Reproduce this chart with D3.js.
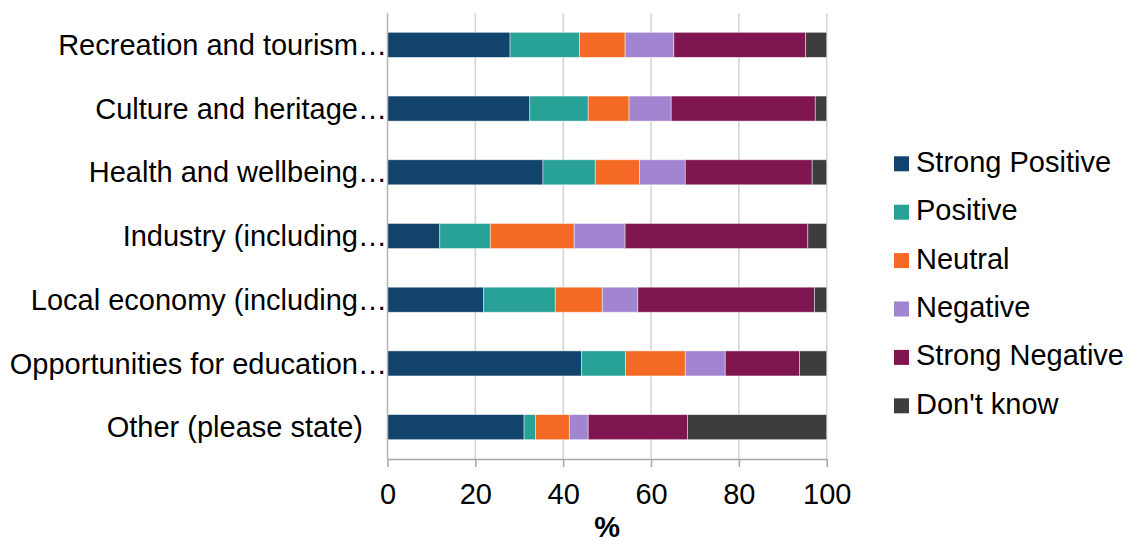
<!DOCTYPE html>
<html><head><meta charset="utf-8">
<script src="https://cdn.jsdelivr.net/npm/d3@7"></script>
<style>
html,body{margin:0;padding:0;background:#fff;}
svg text{font-family:"Liberation Sans",Arial,sans-serif;fill:#000;}
</style></head>
<body><svg id="c" width="1127" height="545"></svg>
<script>
const categories = [
  "Recreation and tourism…",
  "Culture and heritage…",
  "Health and wellbeing…",
  "Industry (including…",
  "Local economy (including…",
  "Opportunities for education…",
  "Other (please state)"
];
const seriesNames = ["Strong Positive","Positive","Neutral","Negative","Strong Negative","Don't know"];
const strongPositive = [27.9, 32.4, 35.4, 11.9, 21.9, 44.2, 31.1];
const positive       = [15.8, 13.3, 11.9, 11.5, 16.3, 10.0,  2.6];
const neutral        = [10.4,  9.3, 10.1, 19.1, 10.7, 13.6,  7.7];
const negative       = [11.1,  9.6, 10.4, 11.6,  8.1,  9.1,  4.3];
const strongNegative = [30.0, 32.8, 28.9, 41.6, 40.2, 16.9, 22.6];
const dontKnow       = [ 4.8,  2.6,  3.3,  4.3,  2.8,  6.2, 31.7];
const xTicks = [0, 20, 40, 60, 80, 100];
const colors = ["#12436D","#28A197","#F46A25","#A285D1","#801650","#3D3D3D"];

const seriesValues = [strongPositive, positive, neutral, negative, strongNegative, dontKnow];
const table = categories.map((c, i) => {
  const row = {category: c};
  seriesNames.forEach((s, j) => row[s] = seriesValues[j][i]);
  return row;
});
const stacked = d3.stack().keys(seriesNames)(table);

const svg = d3.select("#c");
const mLeft = 387.5, mRight = 826.7, mTop = 13, mBottom = 459;
const x = d3.scaleLinear().domain([0, 100]).range([mLeft, mRight]);
const y = d3.scaleBand().domain(categories).range([mTop, mBottom]).padding(0);
const color = d3.scaleOrdinal().domain(seriesNames).range(colors);
const barH = y.bandwidth() * 0.393;
const FS = 29;

// gridlines
svg.append("g").selectAll("line").data(xTicks.filter(t => t > 0)).join("line")
  .attr("x1", d => x(d)).attr("x2", d => x(d))
  .attr("y1", mTop).attr("y2", mBottom)
  .attr("stroke", "#d3d3d3").attr("stroke-width", 1.5);

// bars
svg.append("g").selectAll("g").data(stacked).join("g")
  .attr("fill", d => color(d.key))
  .selectAll("rect").data(d => d).join("rect")
  .attr("x", d => x(d[0]))
  .attr("width", d => x(d[1]) - x(d[0]))
  .attr("y", d => y(d.data.category) + (y.bandwidth() - barH) / 2)
  .attr("height", barH)
  .attr("stroke", "rgba(255,255,255,0.55)").attr("stroke-width", 0.8);

// left axis line
svg.append("line").attr("x1", mLeft).attr("x2", mLeft).attr("y1", mTop).attr("y2", mBottom)
  .attr("stroke", "#b4b4b4").attr("stroke-width", 1.5);

// x axis
const xAxis = svg.append("g").attr("transform", `translate(0,${mBottom})`)
  .call(d3.axisBottom(x).tickValues(xTicks).tickSize(8).tickPadding(16).tickSizeOuter(0));
xAxis.select(".domain").attr("stroke", "#a6a6a6").attr("stroke-width", 1.5);
xAxis.selectAll(".tick line").attr("stroke", "#a6a6a6").attr("stroke-width", 1.5);
xAxis.selectAll(".tick text").style("font-size", FS + "px").attr("fill", "#000")
  .style("font-family", "'Liberation Sans', Arial, sans-serif");

// x axis title
svg.append("text").attr("x", (mLeft + mRight) / 2).attr("y", 537)
  .attr("text-anchor", "middle").style("font-size", FS + "px").style("font-weight", "bold").text("%");

// category labels
svg.append("g").selectAll("text").data(categories).join("text")
  .attr("x", d => d.endsWith("…") ? 387 : 363)
  .attr("y", d => y(d) + y.bandwidth() / 2)
  .attr("dy", "0.35em")
  .attr("text-anchor", "end")
  .style("font-size", FS + "px")
  .text(d => d);

// legend
const legY0 = 163.8, legStep = 48.4;
const leg = svg.append("g").selectAll("g").data(seriesNames).join("g")
  .attr("transform", (d, i) => `translate(894,${legY0 + i * legStep})`);
leg.append("rect").attr("x", 0).attr("y", -7.5).attr("width", 15).attr("height", 15)
  .attr("fill", d => color(d));
leg.append("text").attr("x", 22).attr("y", 8).style("font-size", FS + "px").text(d => d);
</script></body></html>
